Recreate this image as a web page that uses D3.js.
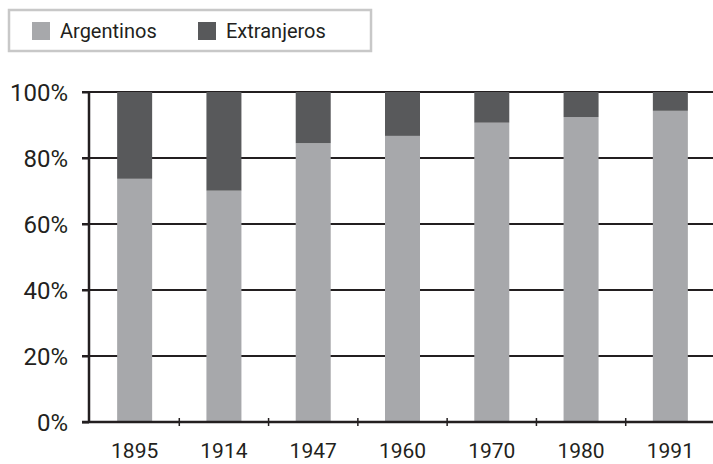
<!DOCTYPE html>
<html>
<head>
<meta charset="utf-8">
<script src="https://cdn.jsdelivr.net/npm/d3@7"></script>
<style>
  body { margin: 0; background: #fff; }
  text { font-family: Roboto, "Noto Sans", sans-serif; fill: #231f20; }
</style>
</head>
<body>
<svg id="chart" width="713" height="464"></svg>
<script>
const years = ["1895", "1914", "1947", "1960", "1970", "1980", "1991"];
const argentinos = [73.7, 70.1, 84.5, 86.7, 90.7, 92.4, 94.3];
const extranjeros = [26.3, 29.9, 15.5, 13.3, 9.3, 7.6, 5.7];
const seriesNames = ["Argentinos", "Extranjeros"];
const yTicks = [0, 20, 40, 60, 80, 100];

const colors = { Argentinos: "#a7a8ab", Extranjeros: "#58595b" };
const ink = "#231f20";

const svg = d3.select("#chart");

const x = d3.scaleBand().domain(years).range([90, 715]).paddingInner(0.608).paddingOuter(0.304);
const y = d3.scaleLinear().domain([0, 100]).range([422, 92]);

// gridlines behind the bars
svg.append("g")
  .selectAll("line")
  .data(yTicks.filter((d) => d > 0))
  .enter()
  .append("line")
  .attr("x1", 82)
  .attr("x2", 713)
  .attr("y1", (d) => y(d))
  .attr("y2", (d) => y(d))
  .attr("stroke", ink)
  .attr("stroke-width", 2);

// stacked bars
const rows = years.map((yr, i) => ({ year: yr, Argentinos: argentinos[i], Extranjeros: extranjeros[i] }));
const stacked = d3.stack().keys(seriesNames)(rows);

svg.append("g")
  .selectAll("g")
  .data(stacked)
  .enter()
  .append("g")
  .attr("fill", (s) => colors[s.key])
  .selectAll("rect")
  .data((s) => s)
  .enter()
  .append("rect")
  .attr("x", (d) => x(d.data.year))
  .attr("width", x.bandwidth())
  .attr("y", (d) => y(d[1]))
  .attr("height", (d) => y(d[0]) - y(d[1]));

// y axis
const yAxis = svg.append("g")
  .attr("transform", "translate(89,0)")
  .call(d3.axisLeft(y).tickValues(yTicks).tickSize(7).tickPadding(14).tickFormat((d) => d + "%"));
yAxis.select(".domain").attr("stroke", ink).attr("stroke-width", 2.5).attr("d", "M0,92V422");
yAxis.selectAll(".tick line").attr("stroke", ink).attr("stroke-width", 2);
yAxis.selectAll(".tick text").attr("font-size", 24).attr("fill", ink).attr("dy", "0.36em");

// x axis with ticks at band boundaries
const xAxis = svg.append("g").attr("transform", "translate(0,422)");
xAxis.append("line")
  .attr("x1", 82).attr("x2", 713)
  .attr("stroke", ink).attr("stroke-width", 2.5);
xAxis.selectAll(".bound")
  .data(years.slice(1))
  .enter()
  .append("line")
  .attr("x1", (d) => x(d) - x.step() * x.paddingInner() / 2)
  .attr("x2", (d) => x(d) - x.step() * x.paddingInner() / 2)
  .attr("y1", -4).attr("y2", 4)
  .attr("stroke", ink).attr("stroke-width", 1.5);
xAxis.selectAll(".lbl")
  .data(years)
  .enter()
  .append("text")
  .attr("x", (d) => x(d) + x.bandwidth() / 2)
  .attr("y", 36)
  .attr("text-anchor", "middle")
  .attr("font-size", 21)
  .text((d) => d);

// legend
const legend = svg.append("g");
legend.append("rect")
  .attr("x", 9).attr("y", 10).attr("width", 362).attr("height", 41)
  .attr("fill", "#fff").attr("stroke", "#c8c8c8").attr("stroke-width", 2.5);
const legendX = [32, 198];
seriesNames.forEach((name, i) => {
  legend.append("rect")
    .attr("x", legendX[i]).attr("y", 22).attr("width", 18).attr("height", 18)
    .attr("fill", colors[name]);
  legend.append("text")
    .attr("x", legendX[i] + 28).attr("y", 38)
    .attr("font-size", 20)
    .text(name);
});
</script>
</body>
</html>
